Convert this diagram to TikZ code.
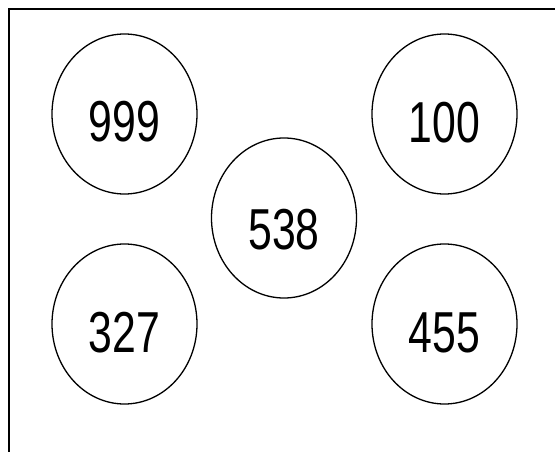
\documentclass[tikz,border=0pt]{standalone}
\usepackage{fontspec}
\setmainfont{Liberation Sans}
\usetikzlibrary{shapes.geometric}
\tikzset{
  ball/.style={draw=black, line width=1.3bp, ellipse, minimum width=145bp, minimum height=160bp, inner sep=0pt},
  num/.style={inner sep=0pt, font=\fontsize{58}{58}\selectfont},
  frameline/.style={draw=black, line width=2bp}
}
\newcommand{\numtxt}[1]{\scalebox{0.74}[1]{#1}}
\begin{document}
\begin{tikzpicture}[x=1bp, y=-1bp]
\useasboundingbox (0,0) rectangle (555,452);
\coordinate (fl) at (9,452);
\coordinate (fc) at (9,9);
\coordinate (fr) at (555,9);
\draw[frameline] (fl) -- (fc) -- (fr);
\node[ball] (c999) at (124.5,114) {};
\node[ball] (c100) at (444.5,114) {};
\node[ball] (c538) at (284,218) {};
\node[ball] (c327) at (124.5,324) {};
\node[ball] (c455) at (444.5,324) {};
\node[num] (t999) at ([yshift=-8bp]c999.center) {\numtxt{999}};
\node[num] (t100) at ([yshift=-9bp]c100.center) {\numtxt{100}};
\node[num] (t538) at ([yshift=-12bp]c538.center) {\numtxt{538}};
\node[num] (t327) at ([yshift=-9bp]c327.center) {\numtxt{327}};
\node[num] (t455) at ([yshift=-9bp]c455.center) {\numtxt{455}};
\end{tikzpicture}
\end{document}
